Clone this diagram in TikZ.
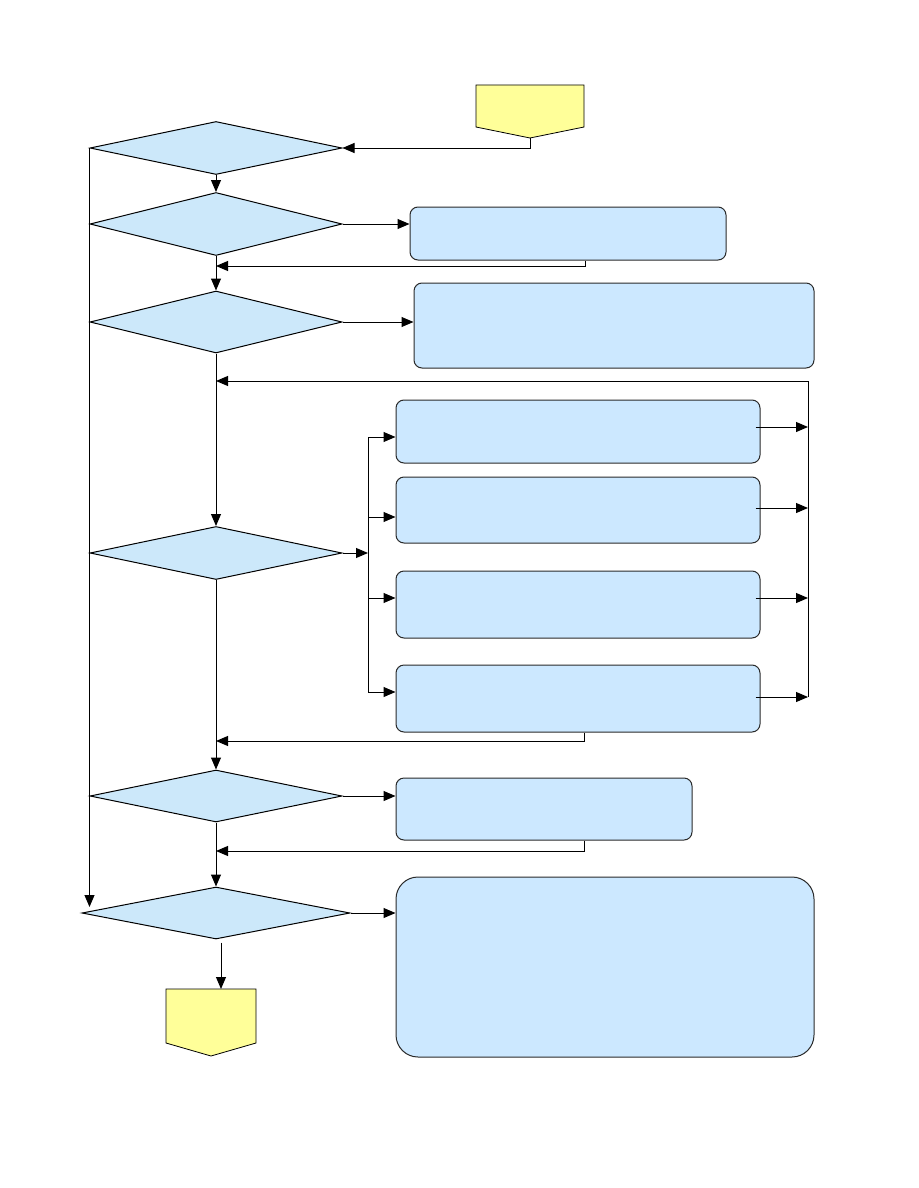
\documentclass[tikz,border=0pt]{standalone}
\usetikzlibrary{shapes.geometric,arrows.meta}
\definecolor{dblue}{HTML}{CCE8FA}
\definecolor{bblue}{HTML}{CCE8FF}
\definecolor{termy}{HTML}{FFFF99}
\definecolor{boxline}{HTML}{2A2A2A}
\begin{document}
\begin{tikzpicture}[x=1pt,y=-1pt,
 dec/.style={diamond,draw,fill=dblue,inner sep=0pt,line width=1pt},
 proc/.style={rectangle,rounded corners=8pt,draw=boxline,fill=bblue,line width=1pt,inner sep=0pt},
 term/.style={draw,fill=termy,line width=0.8pt},
 arr/.style={-{Triangle[length=12pt,width=10pt]},line width=1pt},
 ln/.style={line width=1pt}]
\useasboundingbox (0,0) rectangle (918,1188);

% terminals
\draw[term] (476,85) -- (584,85) -- (584,127) -- (530,138) -- (476,127) -- cycle;
\coordinate (st) at (530,138);
\draw[term] (166,989) -- (256,989) -- (256,1043) -- (211,1056) -- (166,1043) -- cycle;
\coordinate (et) at (221,989);

% decisions
\node[dec,minimum width=252pt,minimum height=53pt] (d1) at (216,148) {};
\node[dec,minimum width=252pt,minimum height=63pt] (d2) at (216,224) {};
\node[dec,minimum width=252pt,minimum height=62pt] (d3) at (216,322) {};
\node[dec,minimum width=252pt,minimum height=53pt] (d4) at (216,553) {};
\node[dec,minimum width=252pt,minimum height=52pt] (d5) at (216,796) {};
\node[dec,minimum width=268pt,minimum height=52pt] (d6) at (216,913) {};

% process boxes
\node[proc,minimum width=316pt,minimum height=53pt] (b1) at (568,233.5) {};
\node[proc,minimum width=400pt,minimum height=85pt] (b2) at (614,325.5) {};
\node[proc,minimum width=364pt,minimum height=63pt] (b3) at (578,431.5) {};
\node[proc,minimum width=364pt,minimum height=66pt] (b4) at (578,510) {};
\node[proc,minimum width=364pt,minimum height=67pt] (b5) at (578,604.5) {};
\node[proc,minimum width=364pt,minimum height=67pt] (b6) at (578,698.5) {};
\node[proc,minimum width=296pt,minimum height=62pt] (b7) at (544,809) {};
\node[proc,rounded corners=22pt,minimum width=418pt,minimum height=180pt] (b8) at (605,967) {};

% junction coordinates
\coordinate (j1) at (216,266);
\coordinate (j2) at (216,381);
\coordinate (j3) at (216,741);
\coordinate (j4) at (216,851);
\coordinate (rtop) at (808,381);
\coordinate (rbot) at (808,697);
\coordinate (lbm) at (368,553);
\coordinate (lb1) at (368,437);
\coordinate (lb2) at (368,517);
\coordinate (lb3) at (368,598);
\coordinate (lb4) at (368,692);
\coordinate (r1) at (808,427);
\coordinate (r2) at (808,508);
\coordinate (r3) at (808,598);
\coordinate (r4) at (808,697);
\coordinate (lend) at (89,907);

% connectors
\draw[arr] (st) |- (d1.east);
\draw[arr] (d1.south) -- (d2.north);
\draw[arr] (d2.east) -- (d2.east -| b1.west);
\draw[arr] ([xshift=17pt]b1.south) |- (j1);
\draw[arr] (d2.south) -- (d3.north);
\draw[arr] (d3.east) -- (d3.east -| b2.west);
\draw[ln] (rbot) -- (rtop);
\draw[arr] (rtop) -- (j2);
\draw[arr] (d3.south) -- (d4.north);
\draw[arr] (d4.east) -- (lbm);
\draw[ln] (lb1) -- (lb4);
\draw[arr] (lb1) -- (lb1 -| b3.west);
\draw[arr] (lb2) -- (lb2 -| b4.west);
\draw[arr] (lb3) -- (lb3 -| b5.west);
\draw[arr] (lb4) -- (lb4 -| b6.west);
\draw[arr] ([xshift=-5pt]r1 -| b3.east) -- (r1);
\draw[arr] ([xshift=-5pt]r2 -| b4.east) -- (r2);
\draw[arr] ([xshift=-5pt]r3 -| b5.east) -- (r3);
\draw[arr] ([xshift=-5pt]r4 -| b6.east) -- (r4);
\draw[arr] (d4.south) -- (d5.north);
\draw[arr] ([xshift=6pt]b6.south) |- (j3);
\draw[arr] (d5.east) -- (d5.east -| b7.west);
\draw[arr] ([xshift=40pt]b7.south) |- (j4);
\draw[arr] (d5.south) -- (d6.north);
\draw[arr] (d6.east) -- (d6.east -| b8.west);
\draw[arr] (d1.west) -- (d1.west |- lend);
\draw[arr] ([xshift=5pt,yshift=-3pt]d6.south) -- (et);
\end{tikzpicture}
\end{document}
